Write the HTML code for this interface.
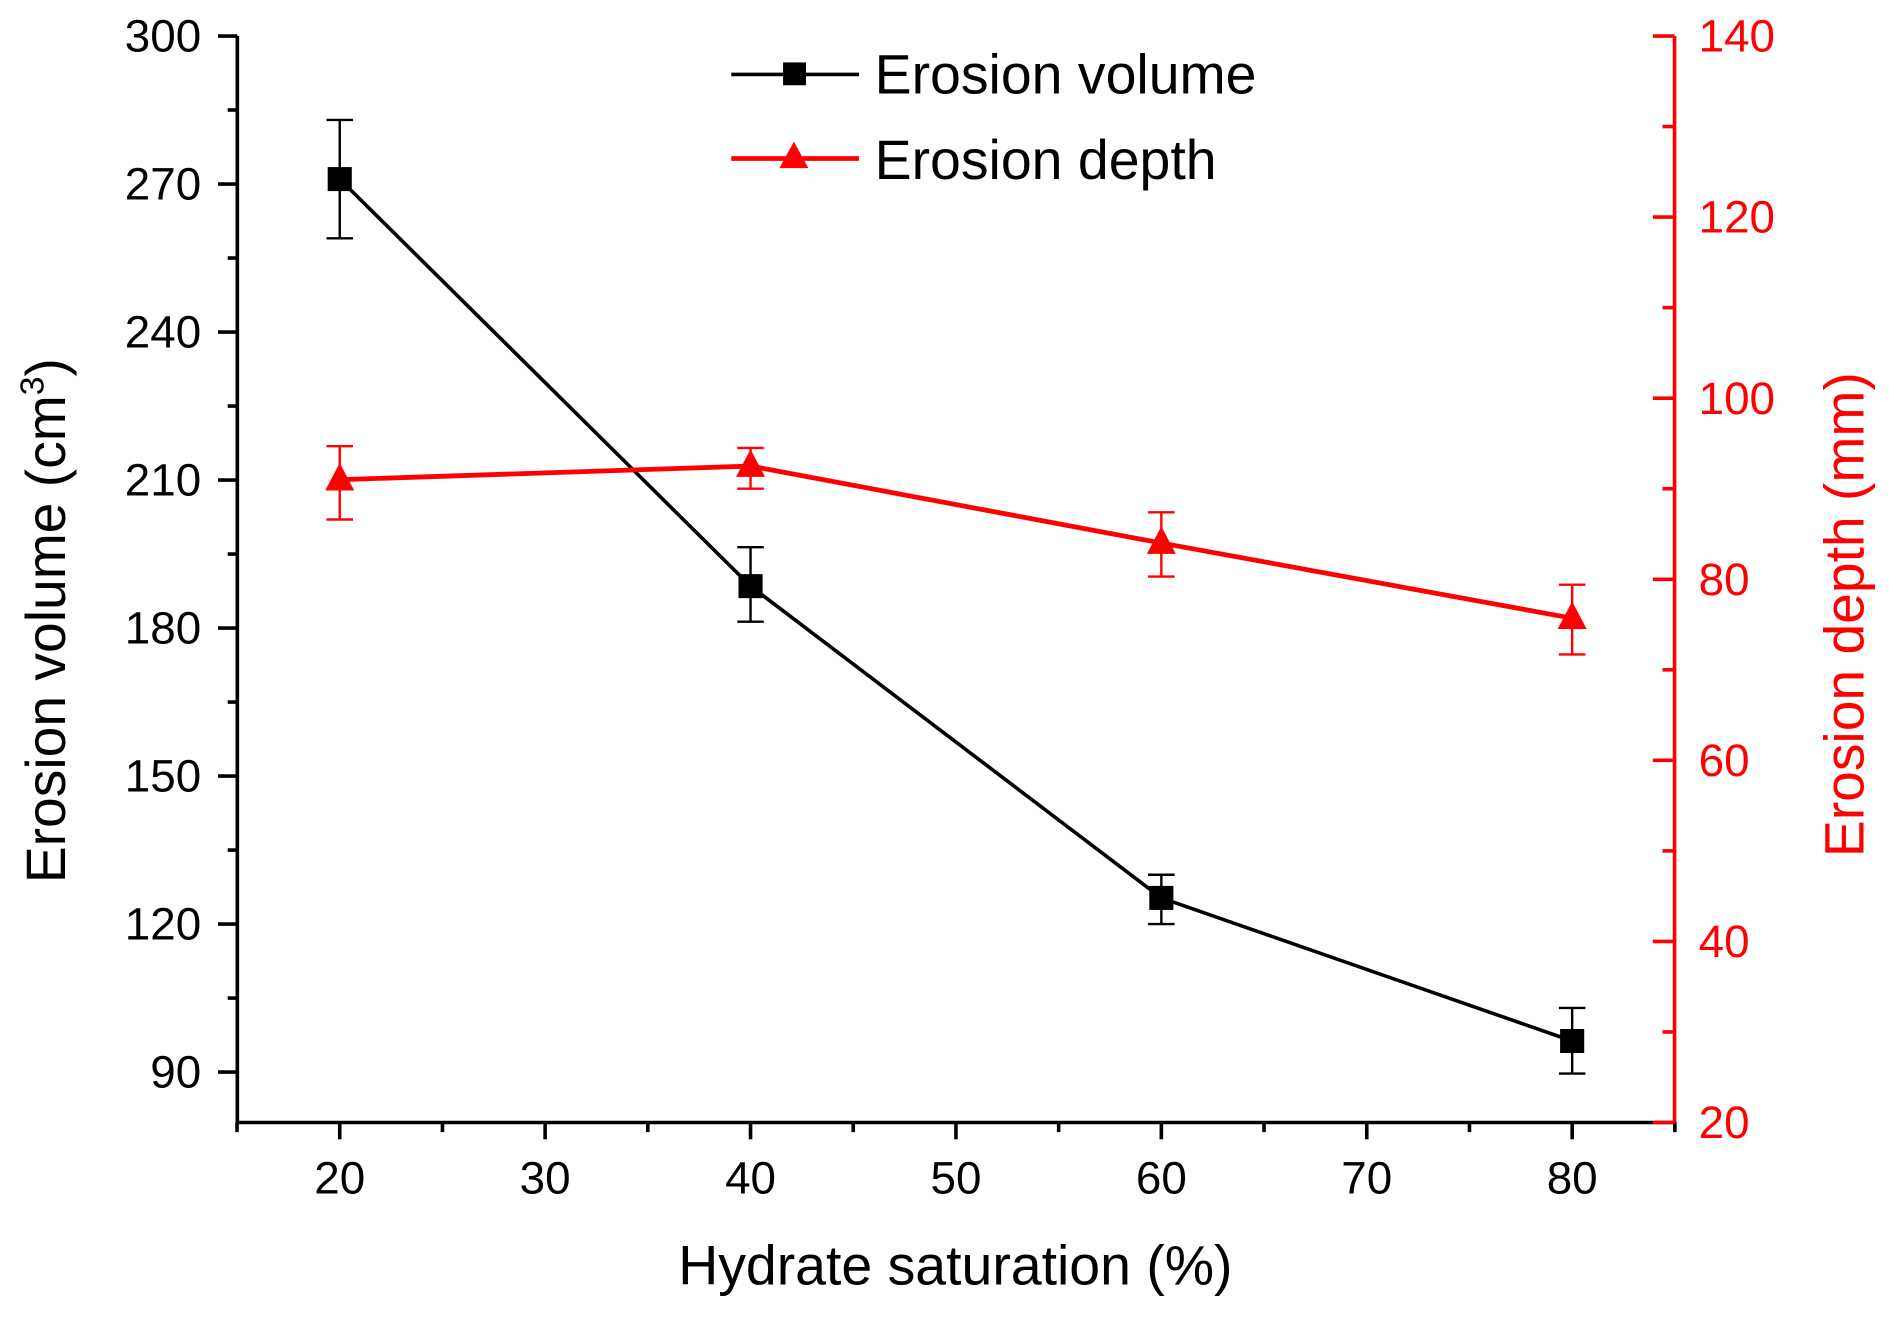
<!DOCTYPE html>
<html><head><meta charset="utf-8"><style>
html,body{margin:0;padding:0;background:#fff;width:1889px;height:1317px;overflow:hidden}
svg text{font-family:"Liberation Sans",Arial,sans-serif}
</style></head><body>
<svg id="chart" width="1889" height="1317" viewBox="0 0 1568 1097" preserveAspectRatio="none" xmlns="http://www.w3.org/2000/svg"></svg>
<script>
const xCats=[20,40,60,80];
const volume=[271,188.5,125.3,96.3];
const volErrHi=[283,196.4,130,103];
const volErrLo=[259,181.3,120,89.7];
const depth=[91,92.5,84,75.7];
const depErrHi=[94.7,94.5,87.4,79.4];
const depErrLo=[86.6,90,80.3,71.7];
const xTicks=[20,30,40,50,60,70,80];
const yLeftTicks=[90,120,150,180,210,240,270,300];
const yRightTicks=[20,40,60,80,100,120,140];

const L=197,R=1390,T=30,B=935;
const sx=v=>282+(v-20)*(1305-282)/60;
const syL=v=>30+(300-v)*(893-30)/210;
const syR=v=>935-(v-20)*(935-30)/120;
const svg=document.getElementById('chart');
const NS='http://www.w3.org/2000/svg';
function mk(tag,attrs,parent){const e=document.createElementNS(NS,tag);for(const k in attrs)e.setAttribute(k,attrs[k]);(parent||svg).appendChild(e);return e;}

let e;
e=mk('line',{x1:L,y1:T,x2:L,y2:B,stroke:'#000','stroke-width':3});


e=mk('line',{x1:L,y1:B,x2:R,y2:B,stroke:'#000','stroke-width':3});


e=mk('line',{x1:R,y1:T,x2:R,y2:B,stroke:'#f00','stroke-width':3});



for(let v=15;v<=85;v+=5){
  const maj=v%10===0;
  e=mk('line',{x1:sx(v),y1:B,x2:sx(v),y2:B+(maj?14:8),stroke:'#000','stroke-width':3});
  
  
}
xTicks.forEach(v=>{
  e=mk('text',{x:sx(v),y:994,'font-size':38,'text-anchor':'middle',fill:'#000'});e.textContent=v;
  
  
});
for(let v=300;v>=80;v-=15){
  const maj=v%30===0;
  e=mk('line',{x1:L-(maj?16:8),y1:syL(v),x2:L,y2:syL(v),stroke:'#000','stroke-width':3});
  
  
}
yLeftTicks.forEach(v=>{
  e=mk('text',{x:167,y:syL(v)+13,'font-size':38,'text-anchor':'end',fill:'#000'});e.textContent=v;
  
  
});
for(let v=20;v<=140;v+=10){
  const maj=v%20===0;
  e=mk('line',{x1:R-(maj?18:10),y1:syR(v),x2:R,y2:syR(v),stroke:'#f00','stroke-width':3});
  
  
}
yRightTicks.forEach(v=>{
  e=mk('text',{x:1410,y:syR(v)+13,'font-size':38,'text-anchor':'start',fill:'#f00'});e.textContent=v;
  
  
});

e=mk('text',{x:793,y:1070,'font-size':46,'text-anchor':'middle',fill:'#000'});e.textContent='Hydrate saturation (%)';


e=mk('text',{x:0,y:0,'font-size':46,'text-anchor':'middle',fill:'#000',transform:'translate(54,517) rotate(-90)'});
e.innerHTML='Erosion volume (cm<tspan dy="-18" font-size="28">3</tspan><tspan dy="18">)</tspan>';


e=mk('text',{x:0,y:0,'font-size':46,'text-anchor':'middle',fill:'#f00',transform:'translate(1547,512) rotate(-90)'});e.textContent='Erosion depth (mm)';



e=mk('polyline',{points:xCats.map((x,i)=>sx(x)+','+syL(volume[i])).join(' '),fill:'none',stroke:'#000','stroke-width':3});


xCats.forEach((x,i)=>{
  const g=mk('g',{});
  
  
  mk('line',{x1:sx(x),y1:syL(volErrHi[i]),x2:sx(x),y2:syL(volErrLo[i]),stroke:'#000','stroke-width':2},g);
  mk('line',{x1:sx(x)-11,y1:syL(volErrHi[i]),x2:sx(x)+11,y2:syL(volErrHi[i]),stroke:'#000','stroke-width':2},g);
  mk('line',{x1:sx(x)-11,y1:syL(volErrLo[i]),x2:sx(x)+11,y2:syL(volErrLo[i]),stroke:'#000','stroke-width':2},g);
  mk('rect',{x:sx(x)-10,y:syL(volume[i])-10,width:20,height:20,fill:'#000'},g);
});
e=mk('polyline',{points:xCats.map((x,i)=>sx(x)+','+syR(depth[i])).join(' '),fill:'none',stroke:'#f00','stroke-width':4});


xCats.forEach((x,i)=>{
  const g=mk('g',{});
  
  
  mk('line',{x1:sx(x),y1:syR(depErrHi[i]),x2:sx(x),y2:syR(depErrLo[i]),stroke:'#f00','stroke-width':2},g);
  mk('line',{x1:sx(x)-11,y1:syR(depErrHi[i]),x2:sx(x)+11,y2:syR(depErrHi[i]),stroke:'#f00','stroke-width':2},g);
  mk('line',{x1:sx(x)-11,y1:syR(depErrLo[i]),x2:sx(x)+11,y2:syR(depErrLo[i]),stroke:'#f00','stroke-width':2},g);
  const cx=sx(x),cy=syR(depth[i]);
  mk('polygon',{points:`${cx},${cy-14} ${cx-12},${cy+9} ${cx+12},${cy+9}`,fill:'#f00'},g);
});

let lg=mk('g',{});


mk('line',{x1:607,y1:62,x2:713,y2:62,stroke:'#000','stroke-width':3},lg);
mk('rect',{x:650,y:52,width:19,height:19,fill:'#000'},lg);
e=mk('text',{x:726,y:78,'font-size':46,fill:'#000'},lg);e.textContent='Erosion volume';
lg=mk('g',{});


mk('line',{x1:607,y1:132,x2:713,y2:132,stroke:'#f00','stroke-width':4},lg);
mk('polygon',{points:'659,118 647,140 671,140',fill:'#f00'},lg);
e=mk('text',{x:726,y:149,'font-size':46,fill:'#000'},lg);e.textContent='Erosion depth';
</script>
</body></html>
